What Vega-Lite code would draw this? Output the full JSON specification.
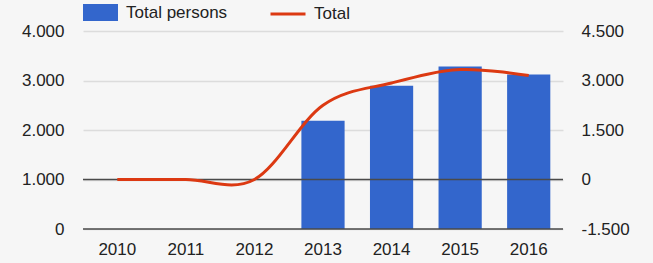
{
  "$schema": "https://vega.github.io/schema/vega-lite/v6.json",
  "width": 480,
  "height": 198,
  "autosize": {"type": "none"},
  "padding": {"left": 83, "top": 31, "right": 90, "bottom": 34},
  "background": "#f6f6f6",
  "config": {
    "locale": {"number": {"decimal": ",", "thousands": ".", "grouping": [3], "currency": ["", " €"], "minus": "-"}},
    "view": {"stroke": null},
    "font": "Liberation Sans",
    "axis": {"labelFont": "Liberation Sans", "labelFontSize": 17, "labelColor": "#222222", "ticks": false, "domain": false, "title": null},
    "legend": {"labelFont": "Liberation Sans", "labelFontSize": 17, "labelColor": "#222222", "padding": 0, "title": null, "orient": "none"}
  },
  "data": {"values": [
    {"year": "2010", "persons": null, "total": 0},
    {"year": "2011", "persons": null, "total": 0},
    {"year": "2012", "persons": null, "total": 0},
    {"year": "2013", "persons": 2185, "total": 2250},
    {"year": "2014", "persons": 2894, "total": 2925},
    {"year": "2015", "persons": 3282, "total": 3330},
    {"year": "2016", "persons": 3122, "total": 3150}
  ]},
  "layer": [
    {
      "layer": [
        {
          "mark": {"type": "bar", "color": "#3366cc"},
          "encoding": {
            "x": {"field": "year", "type": "ordinal", "scale": {"paddingInner": 0.37, "paddingOuter": 0.185}, "axis": {"labelAngle": 0, "labelPadding": 12, "grid": false}},
            "y": {"field": "persons", "type": "quantitative", "scale": {"domain": [0, 4000]}, "axis": {"values": [0, 1000, 2000, 3000, 4000], "format": ",d", "grid": true, "gridColor": "#dcdcdc", "gridWidth": 1.5, "labelPadding": 19}},
            "fill": {"datum": "Total persons", "scale": {"range": ["#3366cc"]}, "legend": {"symbolType": "M-1,-0.486H1V0.486H-1Z", "symbolSize": 1225, "symbolStrokeWidth": 0, "labelOffset": 8, "legendX": 0, "legendY": -36}}
          }
        },
        {
          "data": {"values": [{"v": 0}, {"v": 1000}]},
          "mark": {"type": "rule", "color": "#4a4a4a", "strokeWidth": 1.5},
          "encoding": {"y": {"field": "v", "type": "quantitative"}}
        }
      ]
    },
    {
      "mark": {"type": "line", "color": "#dc3912", "strokeWidth": 3, "interpolate": "cardinal"},
      "encoding": {
        "x": {"field": "year", "type": "ordinal"},
        "y": {"field": "total", "type": "quantitative", "scale": {"domain": [-1500, 4500]}, "axis": {"orient": "right", "values": [-1500, 0, 1500, 3000, 4500], "format": ",d", "grid": false, "labelPadding": 18}},
        "stroke": {"datum": "Total", "scale": {"range": ["#dc3912"]}, "legend": {"symbolType": "stroke", "symbolSize": 1225, "symbolStrokeWidth": 3, "labelOffset": 7, "legendX": 186, "legendY": -36}}
      }
    }
  ],
  "resolve": {"scale": {"y": "independent"}}
}
